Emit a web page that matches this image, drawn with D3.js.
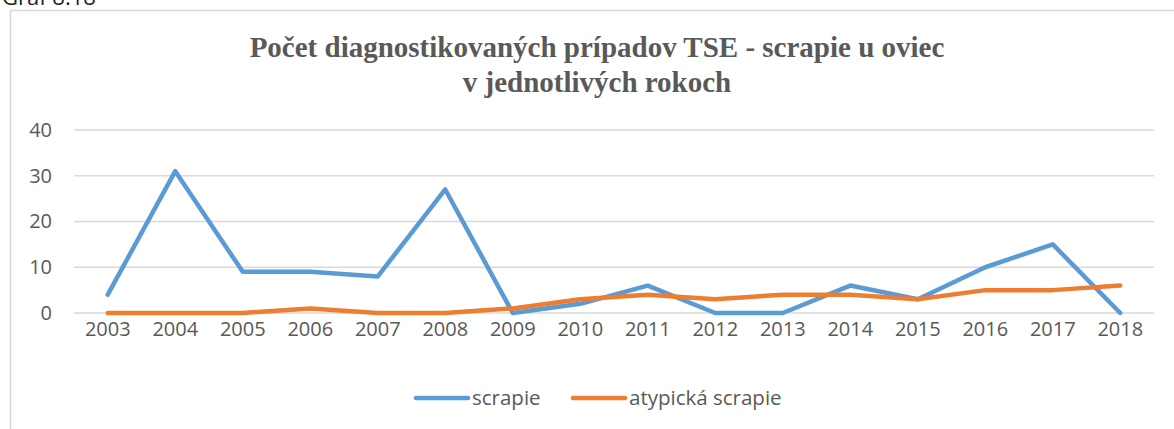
<!DOCTYPE html>
<html>
<head>
<meta charset="utf-8">
<script src="https://cdn.jsdelivr.net/npm/d3@7"></script>
<style>
  body { margin: 0; background: #fff; }
  svg { display: block; }
  .tick text { fill: #595959; font-family: "Open Sans", "Liberation Sans", sans-serif; font-size: 20px; }
</style>
</head>
<body>
<svg id="chart" width="1174" height="429"></svg>
<script>
var years = ["2003","2004","2005","2006","2007","2008","2009","2010","2011","2012","2013","2014","2015","2016","2017","2018"];
var scrapie = [4, 31, 9, 9, 8, 27, 0, 2, 6, 0, 0, 6, 3, 10, 15, 0];
var atypicka = [0, 0, 0, 1, 0, 0, 1, 3, 4, 3, 4, 4, 3, 5, 5, 6];
var yTicks = [0, 10, 20, 30, 40];
var seriesNames = ["scrapie", "atypická scrapie"];
var colors = ["#5b9bd5", "#ed7d31"];

var svg = d3.select("#chart");

// caption above the chart frame (cut off at the top like in the scan)
svg.append("text")
  .attr("x", 2).attr("y", 5)
  .attr("font-family", "Open Sans, sans-serif")
  .attr("font-size", 22)
  .attr("fill", "#222")
  .text("Graf 8.18");

// chart frame
svg.append("rect")
  .attr("x", 10.5).attr("y", 10.5)
  .attr("width", 1200).attr("height", 500)
  .attr("fill", "none")
  .attr("stroke", "#d9d9d9")
  .attr("stroke-width", 1.5);

// title
var title = svg.append("text")
  .attr("text-anchor", "middle")
  .attr("font-family", "Liberation Serif, Times New Roman, serif")
  .attr("font-weight", "bold")
  .attr("font-size", 29)
  .attr("fill", "#595959");
title.append("tspan").attr("x", 597).attr("y", 57).text("Počet diagnostikovaných prípadov TSE - scrapie u oviec");
title.append("tspan").attr("x", 597).attr("y", 92).text("v jednotlivých rokoch");

var plotLeft = 74, plotRight = 1154, plotTop = 130, plotBottom = 313;

var x = d3.scaleBand().domain(years).range([plotLeft, plotRight]);
var y = d3.scaleLinear().domain([0, 40]).range([plotBottom, plotTop]);

// grid
svg.append("g")
  .selectAll("line")
  .data(yTicks)
  .join("line")
  .attr("x1", plotLeft).attr("x2", plotRight)
  .attr("y1", function(d) { return y(d); })
  .attr("y2", function(d) { return y(d); })
  .attr("stroke", "#d9d9d9")
  .attr("stroke-width", 1.5);

// y axis labels
var yAxis = svg.append("g")
  .attr("transform", "translate(" + (plotLeft - 16) + ",0)")
  .call(d3.axisLeft(y).tickValues(yTicks).tickSize(0).tickPadding(6));
yAxis.select(".domain").remove();

// x axis labels
var xAxis = svg.append("g")
  .attr("transform", "translate(0," + plotBottom + ")")
  .call(d3.axisBottom(x).tickSize(0).tickPadding(9));
xAxis.select(".domain").remove();

var line = d3.line()
  .x(function(d, i) { return x(years[i]) + x.bandwidth() / 2; })
  .y(function(d) { return y(d); });

[scrapie, atypicka].forEach(function(s, i) {
  svg.append("path")
    .datum(s)
    .attr("fill", "none")
    .attr("stroke", colors[i])
    .attr("stroke-width", 4.5)
    .attr("stroke-linejoin", "round")
    .attr("stroke-linecap", "round")
    .attr("d", line);
});

// legend
var legendX = [416, 573];
var legend = svg.append("g");
seriesNames.forEach(function(name, i) {
  legend.append("line")
    .attr("x1", legendX[i]).attr("x2", legendX[i] + 52)
    .attr("y1", 398).attr("y2", 398)
    .attr("stroke", colors[i])
    .attr("stroke-width", 4.5)
    .attr("stroke-linecap", "round");
  legend.append("text")
    .attr("x", legendX[i] + 56).attr("y", 405)
    .attr("font-family", "Open Sans, Liberation Sans, sans-serif")
    .attr("font-size", 20.5)
    .attr("fill", "#595959")
    .text(name);
});
</script>
</body>
</html>
